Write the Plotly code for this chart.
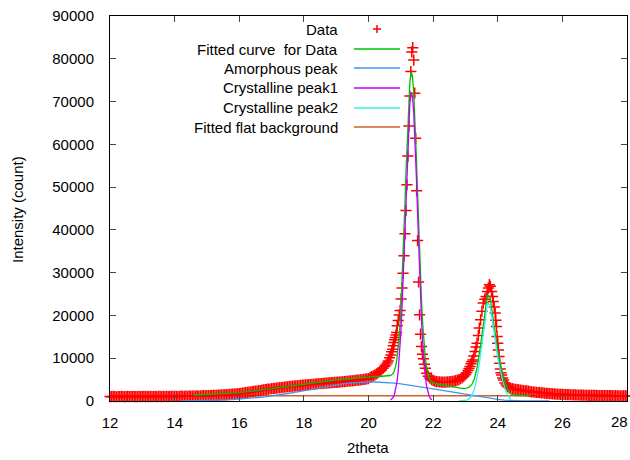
import plotly.graph_objects as go

# ---------------- measured data (2theta, counts) ----------------
data_x = [
 12.00,12.05,12.10,12.15,12.20,12.25,12.30,12.35,12.40,12.45,12.50,12.55,12.60,12.65,12.70,12.75,12.80,12.85,12.90,12.95,
 13.00,13.05,13.10,13.15,13.20,13.25,13.30,13.35,13.40,13.45,13.50,13.55,13.60,13.65,13.70,13.75,13.80,13.85,13.90,13.95,
 14.00,14.05,14.10,14.15,14.20,14.25,14.30,14.35,14.40,14.45,14.50,14.55,14.60,14.65,14.70,14.75,14.80,14.85,14.90,14.95,
 15.00,15.05,15.10,15.15,15.20,15.25,15.30,15.35,15.40,15.45,15.50,15.55,15.60,15.65,15.70,15.75,15.80,15.85,15.90,15.95,
 16.00,16.05,16.10,16.15,16.20,16.25,16.30,16.35,16.40,16.45,16.50,16.55,16.60,16.65,16.70,16.75,16.80,16.85,16.90,16.95,
 17.00,17.05,17.10,17.15,17.20,17.25,17.30,17.35,17.40,17.45,17.50,17.55,17.60,17.65,17.70,17.75,17.80,17.85,17.90,17.95,
 18.00,18.05,18.10,18.15,18.20,18.25,18.30,18.35,18.40,18.45,18.50,18.55,18.60,18.65,18.70,18.75,18.80,18.85,18.90,18.95,
 19.00,19.05,19.10,19.15,19.20,19.25,19.30,19.35,19.40,19.45,19.50,19.55,19.60,19.65,19.70,19.75,19.80,19.85,19.90,19.95,
 20.00,20.05,20.10,20.15,20.20,20.25,20.30,20.35,20.40,20.45,20.50,20.54,20.58,20.61,20.65,20.69,20.72,20.75,20.77,20.79,
 20.81,20.83,20.85,20.87,20.89,20.92,20.95,20.98,21.01,21.04,21.07,21.10,21.13,21.16,21.19,21.22,21.25,21.28,21.31,21.34,
 21.37,21.40,21.43,21.46,21.49,21.52,21.55,21.58,21.61,21.64,21.67,21.70,21.73,21.76,21.80,21.85,21.90,21.95,22.00,22.05,
 22.10,22.15,22.20,22.25,22.30,22.35,22.40,22.45,22.50,22.55,22.60,22.65,22.70,22.75,22.80,22.85,22.90,22.95,23.00,23.04,
 23.08,23.11,23.14,23.17,23.20,23.23,23.26,23.30,23.33,23.36,23.40,23.43,23.47,23.51,23.55,23.60,23.64,23.68,23.71,23.74,
 23.77,23.81,23.84,23.86,23.89,23.92,23.94,23.96,23.98,24.00,24.02,24.04,24.06,24.08,24.10,24.12,24.15,24.18,24.22,24.26,
 24.30,24.35,24.40,24.45,24.50,24.55,24.60,24.65,24.70,24.75,24.80,24.85,24.90,24.95,25.00,25.05,25.10,25.15,25.20,25.25,
 25.30,25.35,25.40,25.45,25.50,25.55,25.60,25.65,25.70,25.75,25.80,25.85,25.90,25.95,26.00,26.05,26.10,26.15,26.20,26.25,
 26.30,26.35,26.40,26.45,26.50,26.55,26.60,26.65,26.70,26.75,26.80,26.85,26.90,26.95,27.00,27.05,27.10,27.15,27.20,27.25,
 27.30,27.35,27.40,27.45,27.50,27.55,27.60,27.65,27.70,27.75,27.80,27.85,27.90,27.95,28.00]
data_y = [
 1040,1010,1060,1030,990,1050,1020,1070,1000,1040,1030,1060,1010,1050,1080,1020,1040,1000,1060,1030,
 1050,1070,1020,1060,1040,1080,1010,1050,1070,1030,1060,1090,1040,1070,1050,1080,1030,1100,1060,1080,
 1070,1100,1050,1090,1120,1080,1110,1140,1100,1130,1160,1120,1170,1150,1190,1170,1210,1200,1240,1220,
 1260,1280,1250,1310,1300,1340,1330,1380,1370,1420,1440,1430,1490,1500,1540,1560,1600,1620,1670,1700,
 1750,1790,1850,1880,1950,2000,2060,2100,2170,2230,2300,2340,2420,2460,2530,2590,2640,2700,2760,2800,
 2870,2910,2970,3010,3060,3120,3150,3210,3240,3300,3330,3380,3410,3460,3490,3540,3560,3620,3640,3690,
 3720,3760,3780,3830,3850,3900,3920,3960,3980,4030,4050,4090,4110,4160,4170,4220,4240,4290,4300,4350,
 4370,4420,4430,4480,4500,4550,4570,4620,4640,4690,4720,4770,4800,4860,4890,4950,5000,5070,5110,5190,
 5250,5550,5700,5900,6090,6350,6600,6870,7250,7660,8050,8440,8900,9370,10100,10780,11500,12120,12900,13670,
 14300,14840,15400,16010,17580,18820,20100,21170,23830,26410,29840,33980,39070,44530,50550,57250,64300,71300,77000,81600,
 82600,79700,71950,61400,49150,37500,27820,20150,15630,12730,10900,9900,8600,7660,6490,5800,5320,5000,4800,4650,
 4550,4500,4450,4420,4400,4420,4400,4450,4470,4520,4580,4650,4750,4870,5000,5200,5450,5750,6150,6600,
 7150,7600,8040,8700,9200,9610,10500,11550,12600,13520,15300,17040,18980,21000,22900,23800,24440,25600,26400,27190,
 26800,25620,24400,23270,22000,20550,18900,17410,15070,13500,11950,10400,8830,7500,6600,6090,5400,4920,4200,3750,
 3400,3150,2980,2880,2800,2720,2660,2600,2560,2500,2450,2400,2350,2300,2200,2150,2100,2080,2030,1990,
 1960,1900,1880,1840,1800,1780,1740,1720,1680,1660,1620,1600,1580,1550,1540,1520,1500,1490,1470,1460,
 1440,1430,1420,1400,1400,1380,1370,1360,1350,1340,1330,1320,1320,1310,1300,1300,1290,1280,1280,1270,
 1270,1260,1250,1260,1240,1250,1230,1240,1220,1230,1210,1220,1200,1210,1200]

# ---------------- fitted curve (sum) ----------------
fit_x = [14.6,14.8,15.0,15.2,15.4,15.6,15.8,16.0,16.2,16.4,16.6,16.8,17.0,17.2,17.4,17.6,17.8,18.0,18.2,18.4,
 18.6,18.8,19.0,19.2,19.4,19.6,19.8,20.0,20.2,20.4,20.6,
 20.64,20.68,20.72,20.76,20.80,20.84,20.88,20.92,20.96,21.00,21.04,21.08,21.12,21.16,21.20,21.24,21.28,21.32,21.36,21.40,
 21.44,21.48,21.52,21.56,21.60,21.64,21.68,21.72,21.76,21.80,21.84,21.88,21.92,21.96,22.00,
 22.2,22.4,22.6,22.80,22.88,22.96,23.04,23.12,23.20,23.28,23.36,23.44,23.52,23.60,23.68,23.76,23.84,23.92,24.00,
 24.08,24.16,24.24,24.32,24.40,24.6,24.8,25.0]
fit_y = [1400,1450,1500,1560,1630,1720,1830,1960,2110,2280,2470,2670,2880,3100,3320,3550,3770,3990,4200,4400,
 4590,4770,4940,5100,5250,5390,5520,5630,5720,5780,5800,
 5900,5960,6120,6450,7070,8140,9860,12470,16200,21270,27760,35550,44300,53390,62050,69420,74550,76940,76010,72120,
 65690,57460,48370,39270,30820,23580,17700,13200,9960,7730,6270,5340,4780,4445,4243,
 3860,3550,3300,3050,2960,2940,3000,3260,3870,5270,7880,11580,16390,21090,24790,24300,20600,16010,11630,
 8550,5970,4020,2570,1630,1280,1260,1250]

# ---------------- amorphous peak ----------------
amor_x = [14.2,14.4,14.6,14.8,15.0,15.2,15.4,15.6,15.8,16.0,16.2,16.4,16.6,16.8,17.0,17.2,17.4,17.6,17.8,18.0,
 18.2,18.4,18.6,18.8,19.0,19.2,19.4,19.6,19.8,20.0,20.2,20.4,20.6,20.8,21.0,21.2,21.4,21.6,21.8,22.0,
 22.2,22.4,22.6,22.8,23.0,23.2,23.4,23.6,23.8,24.0,24.2,24.4,24.6,24.8,25.0,25.2,25.4,25.6]
amor_y = [30,45,65,90,120,160,210,270,345,435,540,670,815,985,1175,1390,1620,1870,2140,2415,
 2700,2980,3260,3520,3760,3980,4160,4300,4400,4440,4440,4390,4300,4170,4000,3800,3580,3340,3080,2820,
 2560,2300,2050,1800,1560,1320,1080,840,600,380,200,80,30,10,0,0,0,0]

# ---------------- crystalline peak 1 ----------------
p1_x = [20.68,20.72,20.76,20.80,20.84,20.88,20.92,20.96,21.00,21.04,21.08,21.12,21.16,21.20,21.24,21.28,21.32,21.36,21.40,
 21.44,21.48,21.52,21.56,21.60,21.64,21.68,21.72,21.76,21.80,21.84,21.88,21.92,21.96]
p1_y = [207,418,800,1470,2590,4360,7020,10800,15920,22460,30300,39100,48240,56950,64370,69550,71990,71110,67270,
 60890,52710,43670,34620,26220,19030,13200,8750,5560,3380,1970,1090,580,295]

# ---------------- crystalline peak 2 ----------------
p2_x = [22.80,22.88,22.96,23.04,23.12,23.20,23.28,23.36,23.44,23.52,23.60,23.68,23.76,23.84,23.92,24.00,24.08,24.16,24.24,24.32,24.40]
p2_y = [0,10,60,200,550,1300,2800,5500,9300,14200,19000,22800,22400,18800,14300,10000,7000,4500,2600,1200,300]

# ---------------- flat background ----------------
bg_x = [12.0, 28.0]
bg_y = [1250, 1250]

legend_labels = ["Data", "Fitted curve  for Data", "Amorphous peak", "Crystalline peak1",
                 "Crystalline peak2", "Fitted flat background"]
x_ticks = [12, 14, 16, 18, 20, 22, 24, 26, 28]
x_ticklabels = ["12", "14", "16", "18", "20", "22", "24", "26", ""]
y_ticks = [0, 10000, 20000, 30000, 40000, 50000, 60000, 70000, 80000, 90000]
y_ticklabels = ["0", "10000", "20000", "30000", "40000", "50000", "60000", "70000", "80000", "90000"]

C_DATA = "#ff0000"
C_FIT = "#00c000"
C_AMOR = "#3c96f0"
C_P1 = "#c000ff"
C_P2 = "#30f0f0"
C_BG = "#d0602a"

fig = go.Figure()
fig.add_trace(go.Scatter(x=bg_x, y=bg_y, mode="lines", line=dict(color=C_BG, width=1.5)))
fig.add_trace(go.Scatter(x=data_x, y=data_y, mode="markers", cliponaxis=False,
                         marker=dict(symbol="cross-thin", size=8, line=dict(color=C_DATA, width=1.5))))
fig.add_trace(go.Scatter(x=fit_x, y=fit_y, mode="lines", line=dict(color=C_FIT, width=1.3)))
fig.add_trace(go.Scatter(x=amor_x, y=amor_y, mode="lines", line=dict(color=C_AMOR, width=1.3)))
fig.add_trace(go.Scatter(x=p1_x, y=p1_y, mode="lines", line=dict(color=C_P1, width=1.3)))
fig.add_trace(go.Scatter(x=p2_x, y=p2_y, mode="lines", line=dict(color=C_P2, width=1.3)))

# gnuplot-style key: right-aligned text followed by a sample
W, H, L, T = 517.0, 385.0, 110.0, 16.0
def px(xp): return (xp - L) / W
def py(yp): return (T + H - yp) / H
rows = [29, 49, 68, 88, 108, 127]
colors = [C_DATA, C_FIT, C_AMOR, C_P1, C_P2, C_BG]
annots = []
shapes = []
for i, (lab, yy, col) in enumerate(zip(legend_labels, rows, colors)):
    annots.append(dict(x=px(340), y=py(yy), xref="paper", yref="paper", text=lab, showarrow=False,
                       xanchor="right", yanchor="middle", font=dict(size=15, color="#000")))
    if i == 0:
        shapes.append(dict(type="line", xref="paper", yref="paper", x0=px(373), x1=px(381),
                           y0=py(yy), y1=py(yy), line=dict(color=C_DATA, width=1.5)))
        shapes.append(dict(type="line", xref="paper", yref="paper", x0=px(377), x1=px(377),
                           y0=py(yy - 4), y1=py(yy + 4), line=dict(color=C_DATA, width=1.5)))
    else:
        shapes.append(dict(type="line", xref="paper", yref="paper", x0=px(354), x1=px(400),
                           y0=py(yy), y1=py(yy), line=dict(color=col, width=1.5)))
# last x tick label, kept inside the page like the original
annots.append(dict(x=px(630), y=py(421), xref="paper", yref="paper", text="28", showarrow=False,
                   xanchor="right", yanchor="middle", font=dict(size=15, color="#000")))
annots.append(dict(x=px(368), y=py(447), xref="paper", yref="paper", text="2theta", showarrow=False,
                   xanchor="center", yanchor="middle", font=dict(size=15, color="#000")))
annots.append(dict(x=px(18), y=py(210), xref="paper", yref="paper", text="Intensity (count)", showarrow=False,
                   textangle=-90, xanchor="center", yanchor="middle", font=dict(size=15, color="#000")))

fig.update_layout(
    width=630, height=460, margin=dict(l=110, r=3, t=16, b=59),
    paper_bgcolor="white", plot_bgcolor="white", showlegend=False,
    font=dict(family="Liberation Sans, Arial, sans-serif", size=15, color="#000"),
    annotations=annots, shapes=shapes,
)
fig.update_xaxes(range=[12, 28], tickvals=x_ticks, ticktext=x_ticklabels, ticks="inside", ticklen=6,
                 mirror="ticks", showline=True, linecolor="#000", linewidth=1, showgrid=False,
                 zeroline=False, tickfont=dict(size=15), ticklabelstandoff=8)
fig.update_yaxes(range=[0, 90000], tickvals=y_ticks, ticktext=y_ticklabels, ticks="inside", ticklen=6,
                 mirror="ticks", showline=True, linecolor="#000", linewidth=1, showgrid=False,
                 zeroline=False, tickfont=dict(size=15), ticklabelstandoff=12)

fig.write_html("out.html", post_script="document.body.style.margin='0';",
               config={"displayModeBar": False})
